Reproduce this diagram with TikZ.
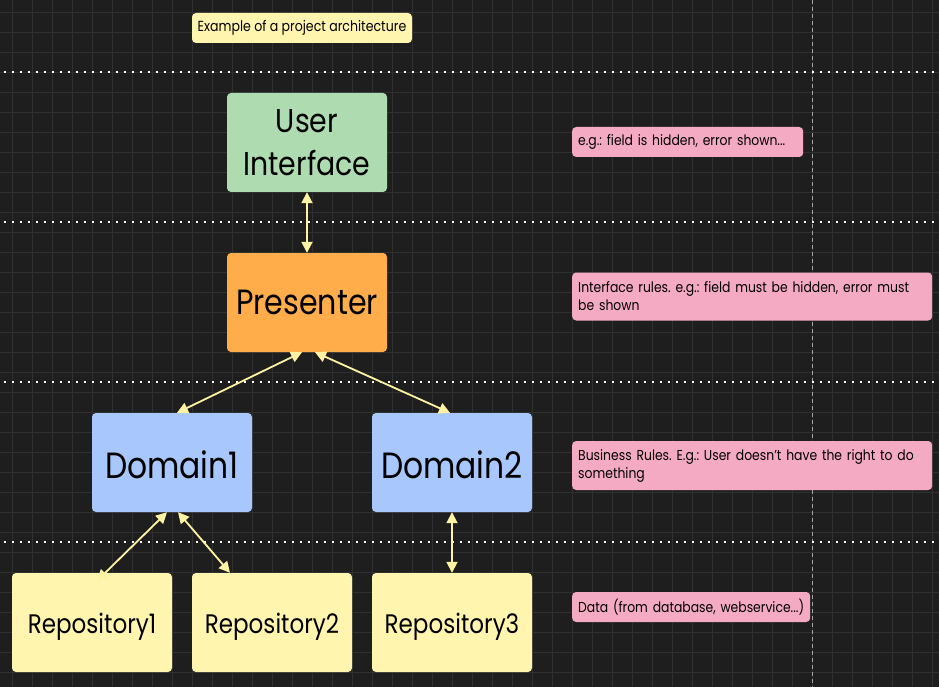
\documentclass[tikz,border=0pt]{standalone}
\usepackage{fontspec}
\setmainfont{Poppins}[FakeStretch=0.86]
\usetikzlibrary{arrows.meta}
\frenchspacing
\definecolor{bg}{HTML}{1E1E1E}
\definecolor{gridc}{HTML}{303030}
\definecolor{uig}{HTML}{AEDCB0}
\definecolor{preso}{HTML}{FFAD4B}
\definecolor{domb}{HTML}{A8C7FD}
\definecolor{repy}{HTML}{FFF5AE}
\definecolor{notep}{HTML}{F5AAC4}
\definecolor{arrowy}{HTML}{FFF3A3}
\tikzset{
  box/.style={rounded corners=4pt, inner sep=0pt, minimum width=160pt, minimum height=99pt, align=center, text=black},
  bigtxt/.style={font=\fontsize{36.5}{43}\selectfont, text height=31pt, text depth=0pt},
  reptxt/.style={font=\fontsize{26.8}{32}\selectfont, text height=21pt, text depth=0pt},
  note/.style={rounded corners=4pt, fill=notep, text=black, inner xsep=6pt, inner ysep=0pt, align=left, font=\fontsize{14.4}{18}\selectfont, anchor=west},
  conn/.style={draw=arrowy, line width=1.8pt, {Triangle[length=11pt,width=11pt]}-{Triangle[length=11pt,width=11pt]}},
  sepline/.style={draw=white, line width=2pt, dash pattern=on 2pt off 6pt},
}
\begin{document}
\begin{tikzpicture}[x=1pt,y=-1pt]
\useasboundingbox (0,0) rectangle (939,687);
\fill[bg] (0,0) rectangle (939,687);
\foreach \i in {0,...,46} {\draw[gridc, line width=1pt] (12+20*\i,0) -- (12+20*\i,687);}
\foreach \j in {0,...,34} {\draw[gridc, line width=1pt] (0,12.5+20*\j) -- (939,12.5+20*\j);}
\draw[gray!70, line width=1pt, dash pattern=on 4pt off 3pt] (812,0) -- (812,687);
\foreach \yy in {72,222,382,542} {\draw[sepline] (4,\yy) -- (939,\yy);}

\node[rounded corners=4pt, fill=repy, text=black, minimum width=220pt, minimum height=30pt, inner sep=0pt, font=\fontsize{14.6}{18}\selectfont] (title) at (302,28) {Example of a project architecture};

\node[box, fill=uig, font=\fontsize{33}{43}\selectfont] (ui) at (307,142.5) {User\\Interface};
\node[box, fill=preso, font=\fontsize{35}{43}\selectfont] (pres) at (307,302.5) {Presenter};
\node[box, fill=domb, bigtxt] (d1) at (172,462.5) {Domain1};
\node[box, fill=domb, bigtxt] (d2) at (452,462.5) {Domain2};
\node[box, fill=repy, reptxt] (r1) at (92,622.5) {Repository1};
\node[box, fill=repy, reptxt] (r2) at (272,622.5) {Repository2};
\node[box, fill=repy, reptxt] (r3) at (452,622.5) {Repository3};

\node[note, text width=219pt, minimum height=30pt] (n1) at (572,142) {\mbox{e.g.: field is hidden, error shown...}};
\node[note, text width=348pt, minimum height=48pt] (n2) at (572,296.5) {\mbox{Interface rules. e.g.: field must be hidden, error must}\\be shown};
\node[note, text width=348pt, minimum height=49pt] (n3) at (572,465.5) {\mbox{Business Rules. E.g.: User doesn't have the right to do}\\something};
\node[note, text width=226pt, minimum height=30pt] (n4) at (572,607) {\mbox{Data (from database, webservice...)}};

\draw[conn] (ui.south) -- (pres.north);
\draw[conn] ([xshift=-5pt]pres.south) -- ([xshift=5pt]d1.north);
\draw[conn] ([xshift=8pt]pres.south) -- ([xshift=-2pt]d2.north);
\draw[conn] ([xshift=-5pt]d1.south) -- ([xshift=5pt,yshift=-8pt]r1.north);
\draw[conn] ([xshift=6pt]d1.south) -- ([xshift=-42pt]r2.north);
\draw[conn] (d2.south) -- (r3.north);
\end{tikzpicture}
\end{document}
